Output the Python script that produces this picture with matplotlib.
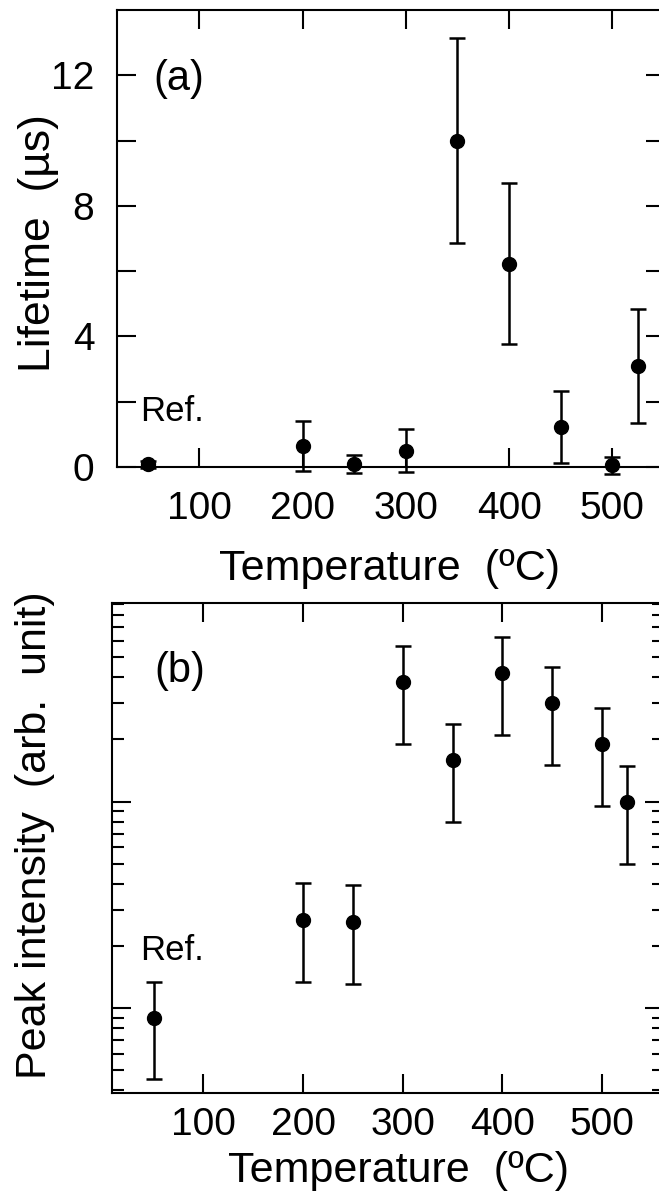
import matplotlib

matplotlib.use("Agg")
import matplotlib.pyplot as plt
import numpy as np
from matplotlib.ticker import LogLocator, NullFormatter

plt.rcParams.update({
    "font.family": ["Liberation Sans", "DejaVu Sans"],
    "axes.linewidth": 1.5,
    "xtick.direction": "in",
    "ytick.direction": "in",
    "xtick.major.width": 1.5,
    "ytick.major.width": 1.5,
    "ytick.minor.width": 1.5,
})

# ---- data -------------------------------------------------------------------
temps_a = [50, 200, 250, 300, 350, 400, 450, 500, 525]
lifetime = [0.08, 0.65, 0.10, 0.50, 10.0, 6.23, 1.23, 0.05, 3.10]
lifetime_err = [0.10, 0.77, 0.27, 0.65, 3.15, 2.47, 1.10, 0.25, 1.75]

temps_b = [50, 200, 250, 300, 350, 400, 450, 500, 525]
intensity = [0.895, 2.68, 2.62, 37.8, 15.9, 41.8, 29.9, 19.0, 9.9]
intensity_err = [0.44, 1.34, 1.31, 18.9, 7.95, 20.8, 14.9, 9.45, 4.9]

xticks = [100, 200, 300, 400, 500]
yticks_a = [0, 2, 4, 6, 8, 10, 12]
ytick_labels_a = ["0", "", "4", "", "8", "", "12"]

XLABEL = "Temperature  (\u00baC)"

fig = plt.figure(figsize=(6.59, 11.96), dpi=100)
ax1 = fig.add_axes([0.1771, 0.6095, 0.832, 0.3821])
ax2 = fig.add_axes([0.1695, 0.0864, 0.838, 0.4092])

err_kw = dict(fmt="o", color="black", ms=10, elinewidth=1.8,
              capsize=6, capthick=1.8, clip_on=False, zorder=3)

# ---- (a) lifetime -----------------------------------------------------------
ax1.errorbar(temps_a, lifetime, yerr=lifetime_err, **err_kw)
ax1.set_xlim(20, 551)
ax1.set_ylim(0, 14)
ax1.set_xticks(xticks)
ax1.set_yticks(yticks_a)
ax1.set_yticklabels(ytick_labels_a)
ax1.tick_params(axis="both", which="major", length=14, labelsize=28,
                top=True, right=True)
ax1.tick_params(axis="x", pad=17)
ax1.tick_params(axis="y", pad=16)
ax1.set_xlabel(XLABEL, fontsize=31, va="center")
ax1.xaxis.set_label_coords(0.498, -0.223)
ax1.set_ylabel("Lifetime  (\u00b5s)", fontsize=32, va="center")
ax1.yaxis.set_label_coords(-0.1435, 0.49)
ax1.text(0.1136, 0.849, "(a)", transform=ax1.transAxes, fontsize=30,
         ha="center", va="center")
ax1.text(0.0425, 0.1225, "Ref.", transform=ax1.transAxes, fontsize=25,
         ha="left", va="center")

# ---- (b) peak intensity -----------------------------------------------------
ax2.errorbar(temps_b, intensity, yerr=intensity_err, **err_kw)
ax2.set_yscale("log")
ax2.set_xlim(8, 562)
ax2.set_ylim(0.39, 91.2)
ax2.set_xticks(xticks)
ax2.yaxis.set_major_locator(LogLocator(base=10))
ax2.yaxis.set_minor_locator(LogLocator(base=10, subs=np.arange(2, 10)))
ax2.yaxis.set_major_formatter(NullFormatter())
ax2.yaxis.set_minor_formatter(NullFormatter())
ax2.tick_params(axis="both", which="major", length=14, labelsize=28,
                top=True, right=True)
ax2.tick_params(axis="y", which="minor", length=8.5, right=True)
ax2.tick_params(axis="x", pad=10)
ax2.set_xlabel(XLABEL, fontsize=31, va="center")
ax2.xaxis.set_label_coords(0.52, -0.16)
ax2.set_ylabel("Peak intensity  (arb.  unit)", fontsize=31, va="center")
ax2.yaxis.set_label_coords(-0.139, 0.527)
ax2.text(0.1237, 0.862, "(b)", transform=ax2.transAxes, fontsize=30,
         ha="center", va="center")
ax2.text(0.0512, 0.2895, "Ref.", transform=ax2.transAxes, fontsize=25,
         ha="left", va="center")

fig.savefig("out.png", dpi=100)
